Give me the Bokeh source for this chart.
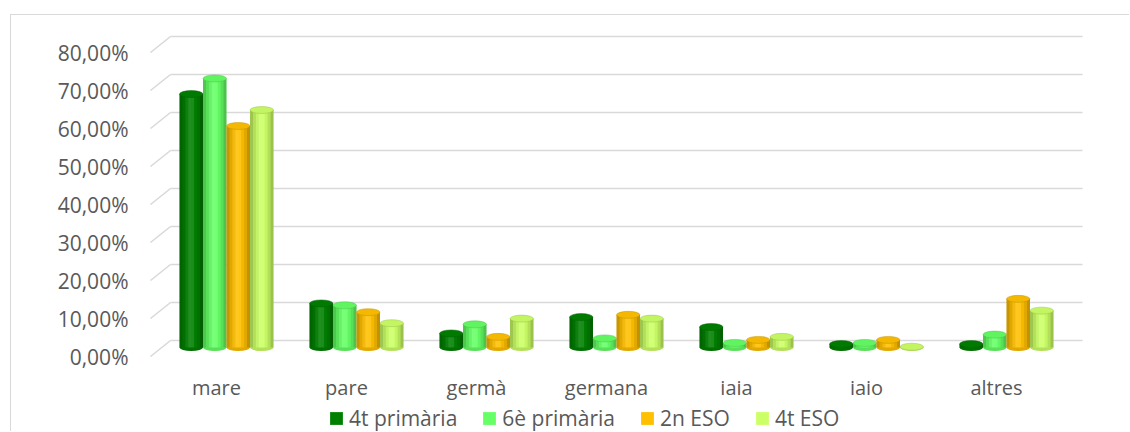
from bokeh.plotting import figure
from bokeh.models import Range1d, FixedTicker, Legend, LegendItem
from bokeh.embed import file_html
from bokeh.resources import INLINE

# ---------------- data ----------------
categories = ["mare", "pare", "germà", "germana", "iaia", "iaio", "altres"]
series_names = ["4t primària", "6è primària", "2n ESO", "4t ESO"]
vals_4t_primaria = [66.7, 11.6, 3.7, 8.0, 5.4, 0.9, 0.9]
vals_6e_primaria = [70.8, 11.1, 6.1, 2.4, 1.2, 1.2, 3.4]
vals_2n_eso = [58.3, 9.3, 2.8, 8.6, 2.0, 2.0, 12.8]
vals_4t_eso = [62.5, 6.4, 7.6, 7.6, 2.8, 0.2, 9.7]
series_values = [vals_4t_primaria, vals_6e_primaria, vals_2n_eso, vals_4t_eso]
series_colors = ["#008000", "#66FF66", "#FFC000", "#CCFF66"]
y_ticks = [0, 10, 20, 30, 40, 50, 60, 70, 80]
y_tick_labels = {t: f"{t},00%" for t in y_ticks}

# ---------------- geometry (pixels -> data units) ----------------
PX_Y = 3.8            # pixels per percentage point
PX_X = 130.0          # pixels per category
depth_back = 16 / PX_Y      # back wall offset (3D depth) in data units
depth_mid = 9 / PX_Y        # bars sit mid-depth
bar_shift = 10 / PX_X       # bars shifted right relative to category labels
bw = 23.5 / PX_X            # bar width
ell_h = 7 / PX_Y            # cylinder cap height
wall_x0 = -46 / PX_X        # back wall left edge
wall_x1 = 866 / PX_X        # back wall right edge
side_x0 = -66 / PX_X        # side wall front edge
axis_y = -9 / PX_Y          # where the category axis sits

TXT = "#595959"
GRID = "#d9d9d9"


def shade(hexcol, f):
    h = hexcol.lstrip("#")
    r, g, b = (int(h[i:i + 2], 16) for i in (0, 2, 4))
    r, g, b = (max(0, min(255, int(c * f))) for c in (r, g, b))
    return f"#{r:02x}{g:02x}{b:02x}"


p = figure(
    width=1119, height=417,
    x_range=Range1d(-76 / PX_X, 884 / PX_X),
    y_range=Range1d(-76 / PX_Y, 331 / PX_Y),
    output_backend="svg", toolbar_location=None,
    min_border_left=129, min_border_right=30,
    min_border_top=10, min_border_bottom=0,
)
p.styles = {
    "position": "absolute", "left": "10px", "top": "14px",
    "border-top": "1px solid #d9d9d9", "border-left": "1px solid #d9d9d9",
}
p.outline_line_color = None
p.xgrid.visible = False
p.ygrid.visible = False
p.background_fill_color = "white"
p.border_fill_color = "white"

# y axis
p.yaxis.ticker = FixedTicker(ticks=y_ticks)
p.yaxis.major_label_overrides = y_tick_labels
p.yaxis.axis_line_color = None
p.yaxis.major_tick_line_color = None
p.yaxis.minor_tick_line_color = None
p.yaxis.major_tick_out = 0
p.yaxis.major_tick_in = 0
p.yaxis.major_label_standoff = 12
p.yaxis.major_label_text_font = "Open Sans"
p.yaxis.major_label_text_font_size = "21px"
p.yaxis.major_label_text_color = TXT

# x axis (category labels), pinned just under the floor
p.xaxis.fixed_location = axis_y
p.xaxis.ticker = FixedTicker(ticks=list(range(len(categories))))
p.xaxis.major_label_overrides = {i: c for i, c in enumerate(categories)}
p.xaxis.axis_line_color = None
p.xaxis.major_tick_line_color = None
p.xaxis.minor_tick_line_color = None
p.xaxis.major_tick_out = 0
p.xaxis.major_tick_in = 0
p.xaxis.major_label_standoff = 8
p.xaxis.major_label_text_font = "Open Sans"
p.xaxis.major_label_text_font_size = "20px"
p.xaxis.major_label_text_color = TXT

# back-wall gridlines and side-wall diagonals
p.segment(x0=[wall_x0] * len(y_ticks), y0=[t + depth_back for t in y_ticks],
          x1=[wall_x1] * len(y_ticks), y1=[t + depth_back for t in y_ticks],
          line_color=GRID, line_width=1.6)
p.segment(x0=[side_x0] * len(y_ticks), y0=y_ticks,
          x1=[wall_x0] * len(y_ticks), y1=[t + depth_back for t in y_ticks],
          line_color=GRID, line_width=1.6)

# cylinders with a soft horizontal shading profile
strip_n = 8
strip_dark = [0.22, 0.12, 0.05, 0.0, 0.0, 0.04, 0.12, 0.24]
strip_light = [0.0, 0.0, 0.06, 0.12, 0.10, 0.0, 0.0, 0.0]
body_renderers = []
n = len(series_values)
for j, (vals, col) in enumerate(zip(series_values, series_colors)):
    xs = [i + bar_shift + (j - (n - 1) / 2) * bw for i in range(len(categories))]
    tops = [v + depth_mid for v in vals]
    dark = shade(col, 0.75)
    # bottom cap (rounded base)
    p.ellipse(x=xs, y=[depth_mid] * len(xs), width=bw, height=ell_h,
              fill_color=shade(col, 0.88), line_color=None)
    body = p.vbar(x=xs, width=bw, top=tops, bottom=depth_mid,
                  fill_color=col, line_color=None)
    body_renderers.append(body)
    sw = bw / strip_n
    for k in range(strip_n):
        sx = [x - bw / 2 + sw * (k + 0.5) for x in xs]
        if strip_dark[k] > 0:
            p.vbar(x=sx, width=sw * 1.02, top=tops, bottom=depth_mid,
                   fill_color="black", fill_alpha=strip_dark[k], line_color=None)
        if strip_light[k] > 0:
            p.vbar(x=sx, width=sw * 1.02, top=tops, bottom=depth_mid,
                   fill_color="white", fill_alpha=strip_light[k], line_color=None)
    # top cap
    p.ellipse(x=xs, y=tops, width=bw, height=ell_h,
              fill_color=shade(col, 0.96), line_color=dark, line_alpha=0.45, line_width=1)

legend = Legend(
    items=[LegendItem(label=s, renderers=[r]) for s, r in zip(series_names, body_renderers)],
    orientation="horizontal", location=(188, 0),
    glyph_width=16, glyph_height=16, label_standoff=5, spacing=24,
    padding=0, margin=0, border_line_color=None, background_fill_alpha=0,
    label_text_font="Open Sans", label_text_font_size="21px", label_text_color=TXT,
)
p.add_layout(legend, "center")

open("out.html", "w").write(file_html(p, INLINE))
